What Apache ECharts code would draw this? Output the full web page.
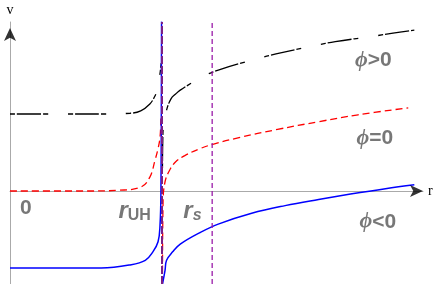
<!DOCTYPE html>
<html><head><meta charset="utf-8">
<script src="https://cdn.jsdelivr.net/npm/echarts@6/dist/echarts.min.js"></script>
<style>html,body{margin:0;padding:0;background:#fff}#c{width:436px;height:284px}</style>
</head><body><div id="c"></div>
<script>
// axis ranges (data units): r_UH = 1
const rMax = 2.717, vMin = -1.208, vMax = 2.195;
const rUH = 1.0, rS = 1.33;

// phi>0 (black dash-dot)
const posLeftR = [0, 0.3, 0.6, 0.79, 0.86, 0.92, 0.95, 0.97, 0.985, 0.995];
const posLeftV = [1.0, 1.0, 1.0, 1.01, 1.04, 1.13, 1.22, 1.32, 1.5, 1.66];
const posRightR = [1.003, 1.005, 1.01, 1.03, 1.06, 1.09, 1.12, 1.20, 1.25, 1.37, 1.63, 1.75, 2.01, 2.14, 2.39, 2.52, 2.66];
const posRightV = [0.3, 0.64, 0.85, 1.05, 1.20, 1.26, 1.31, 1.41, 1.47, 1.57, 1.72, 1.78, 1.89, 1.94, 2.01, 2.05, 2.09];

// phi=0 (red dashed)
const zeroLeftR = [0, 0.5, 0.72, 0.86, 0.92, 0.954, 0.974, 0.987, 0.993];
const zeroLeftV = [0, 0, 0.01, 0.05, 0.18, 0.40, 0.55, 0.70, 0.95];
const zeroRightR = [1.003, 1.007, 1.02, 1.05, 1.09, 1.15, 1.25, 1.34, 1.50, 1.76, 2.03, 2.29, 2.62];
const zeroRightV = [-1.2, -0.14, 0.12, 0.27, 0.38, 0.46, 0.55, 0.61, 0.69, 0.80, 0.90, 0.99, 1.08];

// phi<0 (blue solid)
const negLeftR = [0, 0.6, 0.79, 0.89, 0.94, 0.974, 0.987, 0.993, 0.997];
const negLeftV = [-1, -1, -0.96, -0.90, -0.79, -0.66, -0.44, 0.0, 2.2];
const negRightR = [1.003, 1.02, 1.03, 1.07, 1.12, 1.25, 1.37, 1.59, 1.81, 2.03, 2.24, 2.47, 2.66];
const negRightV = [-1.21, -1.03, -0.90, -0.79, -0.69, -0.54, -0.43, -0.29, -0.19, -0.11, -0.04, 0.03, 0.08];

// annotations
const labelText = ['0', '{r|r}{sub|UH}', '{r|r}{subi|s}', '{p|ϕ}{b|>0}', '{p|ϕ}{b|=0}', '{p|ϕ}{b|<0}'];
const labelR = [0.105, 0.82, 1.20, 2.39, 2.40, 2.42];
const labelV = [-0.22, -0.26, -0.26, 1.70, 0.69, -0.40];

const zip = (a, b) => a.map((x, i) => [x, b[i]]);
const grey = '#555';

const lineSeries = (r, v, color, type, width) => ({
  type: 'line', data: zip(r, v), showSymbol: false, smooth: 0.4,
  lineStyle: { color, width, type }, z: 3, silent: true
});

const dashDot = [5, 2, 24, 2, 5, 20];

const option = {
  animation: false,
  grid: { left: 10, right: 13, top: 22, bottom: 0 },
  xAxis: {
    type: 'value', min: 0, max: rMax,
    axisLine: { onZero: true, lineStyle: { color: '#aaa', width: 1 } },
    axisTick: { show: false }, axisLabel: { show: false }, splitLine: { show: false },
    name: 'r', nameGap: 5, nameTextStyle: { fontFamily: 'Liberation Serif', fontSize: 14, color: '#000', verticalAlign: 'middle' }
  },
  yAxis: {
    type: 'value', min: vMin, max: vMax,
    axisLine: { onZero: true, lineStyle: { color: '#aaa', width: 1 } },
    axisTick: { show: false }, axisLabel: { show: false }, splitLine: { show: false },
    name: 'v', nameGap: 5, nameTextStyle: { fontFamily: 'Liberation Serif', fontSize: 14, color: '#000', align: 'center' }
  },
  series: [
    lineSeries(posLeftR, posLeftV, '#000', dashDot, 1.3),
    lineSeries(posRightR, posRightV, '#000', dashDot, 1.3),
    lineSeries(zeroLeftR, zeroLeftV, '#f00', [7, 4], 1.3),
    lineSeries(zeroRightR, zeroRightV, '#f00', [7, 4], 1.3),
    lineSeries(negLeftR, negLeftV, '#00f', 'solid', 1.5),
    lineSeries(negRightR, negRightV, '#00f', 'solid', 1.5),
    { type: 'line', data: [[rUH, vMin], [rUH, vMax]], showSymbol: false, z: 4,
      lineStyle: { color: '#7b1f86', width: 2, type: [8, 2] } },
    { type: 'line', data: [[rS, vMin], [rS, vMax]], showSymbol: false, z: 4,
      lineStyle: { color: '#9a1aa8', width: 1.3, type: [5, 3] } },
    // axis arrowheads
    { type: 'scatter', clip: false, z: 5, silent: true,
      data: [
        { value: [rMax, 0], symbolRotate: -90, symbolOffset: [0, 0] },
        { value: [0, vMax], symbolRotate: 0, symbolOffset: [0, 6] }
      ],
      symbol: 'arrow', symbolSize: [9, 13], itemStyle: { color: '#000' } },
    // text annotations
    { type: 'scatter', clip: false, z: 6, silent: true, symbolSize: 0,
      data: labelText.map((t, i) => ({ value: [labelR[i], labelV[i]], t })),
      label: {
        show: true, position: 'inside',
        formatter: p => p.data.t,
        fontFamily: 'Liberation Sans', fontWeight: 'bold', fontSize: 21, color: grey,
        rich: {
          r: { fontFamily: 'Liberation Sans', fontStyle: 'italic', fontWeight: 'bold', fontSize: 24, color: grey },
          sub: { fontFamily: 'Liberation Sans', fontWeight: 'bold', fontSize: 16, color: grey, padding: [10, 0, 0, 0] },
          subi: { fontFamily: 'Liberation Sans', fontStyle: 'italic', fontWeight: 'bold', fontSize: 16, color: grey, padding: [10, 0, 0, 0] },
          p: { fontFamily: 'Liberation Serif', fontStyle: 'italic', fontSize: 22, color: grey },
          b: { fontFamily: 'Liberation Sans', fontWeight: 'bold', fontSize: 21, color: grey }
        }
      } }
  ]
};
const chart = echarts.init(document.getElementById('c'), null, { renderer: 'canvas' });
chart.setOption(option);
</script></body></html>
